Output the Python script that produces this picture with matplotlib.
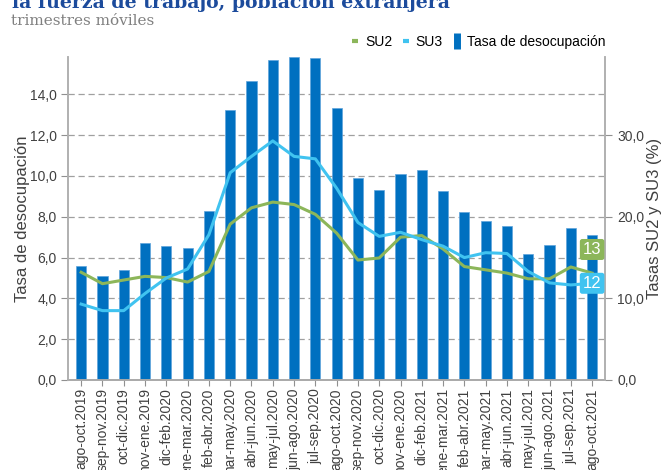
import matplotlib.pyplot as plt
from matplotlib.lines import Line2D
from matplotlib.ticker import FuncFormatter

# datos
periodos = ['ago-oct.2019', 'sep-nov.2019', 'oct-dic.2019', 'nov-ene.2019',
            'dic-feb.2020', 'ene-mar.2020', 'feb-abr.2020', 'mar-may.2020',
            'abr-jun.2020', 'may-jul.2020', 'jun-ago.2020', 'jul-sep.2020',
            'ago-oct.2020', 'sep-nov.2020', 'oct-dic.2020', 'nov-ene.2020',
            'dic-feb.2021', 'ene-mar.2021', 'feb-abr.2021', 'mar-may.2021',
            'abr-jun.2021', 'may-jul.2021', 'jun-ago.2021', 'jul-sep.2021',
            'ago-oct.2021']
desocupacion = [5.6, 5.1, 5.4, 6.7, 6.55, 6.45, 8.3, 13.25, 14.65, 15.7, 15.85, 15.8,
                13.35, 9.9, 9.3, 10.1, 10.3, 9.25, 8.25, 7.8, 7.55, 6.2, 6.6, 7.45, 7.1]
su2 = [13.2, 11.8, 12.25, 12.7, 12.55, 12.0, 13.3, 19.1, 21.1, 21.8, 21.5, 20.3,
       18.0, 14.7, 14.95, 17.5, 17.7, 16.05, 13.9, 13.5, 13.1, 12.4, 12.4, 13.85, 13.1]
su3 = [9.3, 8.5, 8.5, 10.6, 12.5, 13.6, 17.8, 25.4, 27.4, 29.3, 27.4, 27.1,
       23.5, 19.3, 17.6, 18.1, 17.2, 16.4, 15.0, 15.6, 15.5, 13.3, 11.9, 11.65, 11.85]

azul = '#0070C0'
verde = '#8CB65A'
celeste = '#40C3F0'
gris = '#404040'

plt.rcParams['font.family'] = ['Liberation Sans', 'DejaVu Sans']

fig = plt.figure(figsize=(6.64, 4.7), dpi=100)
ax = fig.add_axes([0.103, 0.1915, 0.8086, 0.688])
ax2 = ax.twinx()

x = range(len(periodos))
ax.bar(x, desocupacion, width=0.48, color=azul, edgecolor='#5fa3dc', linewidth=0.5, zorder=2)
ax2.plot(x, su2, color=verde, lw=2.2, zorder=3)
ax2.plot(x, su3, color=celeste, lw=2.2, zorder=3)

ymax = 15.85
ax.set_ylim(0, ymax)
ax2.set_ylim(0, ymax * 2.5)
ax.set_xlim(-0.6, len(periodos) - 0.38)

ax.set_yticks([0, 2, 4, 6, 8, 10, 12, 14])
ax2.set_yticks([0, 10, 20, 30])
coma = FuncFormatter(lambda v, p: f'{v:.1f}'.replace('.', ','))
ax.yaxis.set_major_formatter(coma)
ax2.yaxis.set_major_formatter(coma)
ax.grid(axis='y', color='#a0a0a0', linestyle=(0, (5, 3)), lw=0.9, zorder=0)
ax.set_axisbelow(True)

ax.set_xticks(list(x))
ax.set_xticklabels(periodos, rotation=90, fontsize=10, color=gris)
for a in (ax, ax2):
    a.tick_params(axis='y', labelsize=10, labelcolor=gris, color='#909090', length=5)
    a.spines['top'].set_visible(False)
    for s in ('left', 'right', 'bottom'):
        a.spines[s].set_color('#b0b0b0')
        a.spines[s].set_linewidth(1.2)
ax.tick_params(axis='x', color='#909090', length=4, pad=2)
ax.spines['bottom'].set_color('#808080')

ax.set_ylabel('Tasa de desocupación', fontsize=12, color=gris, labelpad=0)
ax2.set_ylabel('Tasas SU2 y SU3 (%)', fontsize=12, color=gris, labelpad=2)

# etiquetas finales
ultimo = len(periodos) - 1
ax2.annotate(f'{round(su2[-1])}', (ultimo, su2[-1]), xytext=(0, 17), textcoords='offset points',
             ha='center', va='center', color='white', fontsize=12,
             bbox=dict(boxstyle='round,pad=0.18,rounding_size=0.15', fc=verde, ec='none'), zorder=5)
ax2.annotate(f'{round(su3[-1])}', (ultimo, su3[-1]), xytext=(0, 0), textcoords='offset points',
             ha='center', va='center', color='white', fontsize=12,
             bbox=dict(boxstyle='round,pad=0.18,rounding_size=0.15', fc=celeste, ec='none'), zorder=5)

handles = [Line2D([], [], color=verde, marker='_', markersize=5, mew=3, ls='none'),
           Line2D([], [], color=celeste, marker='_', markersize=5, mew=3, ls='none'),
           Line2D([], [], color=azul, marker='|', markersize=12, mew=5, ls='none')]
fig.legend(handles, ['SU2', 'SU3', 'Tasa de desocupación'], loc='center right',
           bbox_to_anchor=(0.93, 0.911), ncol=3, frameon=False, fontsize=10,
           handlelength=0.6, handletextpad=0.4, columnspacing=0.7)

fig.text(0.018, 1 - 8 / 470, 'la fuerza de trabajo, población extranjera', fontsize=13.6,
         fontweight='bold', family='DejaVu Serif', color='#1C4B9C', va='baseline')
fig.text(0.017, 1 - 25 / 470, 'trimestres móviles', fontsize=11, family='DejaVu Serif',
         color='#808080', va='baseline')

fig.savefig('out.png', dpi=100)
